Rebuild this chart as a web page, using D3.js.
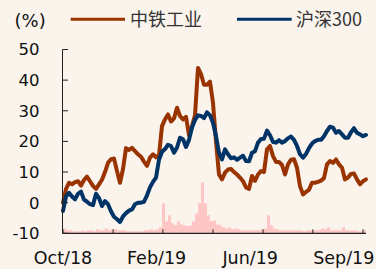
<!DOCTYPE html>
<html>
<head>
<meta charset="utf-8">
<script src="https://cdn.jsdelivr.net/npm/d3@7"></script>
<style>
  html, body { margin: 0; padding: 0; background: #faf4ed; }
  svg { display: block; }
</style>
</head>
<body>
<svg id="chart" width="376" height="269"></svg>
<script>
// 中铁工业 cumulative return (%)
const crcc = [
  0, 4.5, 6.5, 6, 6.7, 7, 5.6, 7.4, 8.5, 7,
  5.5, 4.5, 6, 7.5, 10, 13, 14.2, 14.4, 10.3, 6.5,
  11, 17.8, 17.2, 17.9, 16.8, 15.8, 15, 13.4, 12, 14.7,
  15.8, 14.8, 15.5, 25, 27.2, 28.8, 26.5, 27.5, 31, 28.3,
  27.2, 28, 22, 25, 28.5, 44, 42, 38.5, 38.5, 39.5,
  32.6, 20, 9.2, 7.6, 9.8, 10.8, 11, 10, 9.2, 8.2,
  7, 5, 4.5, 8.7, 7.1, 9.2, 10.3, 10, 17.4, 18.5,
  15.2, 13.3, 13.3, 12.3, 9.2, 12.5, 14, 14.2, 11.4, 5.4,
  2.7, 3.5, 4.2, 6.5, 6.5, 6.8, 7.2, 8, 12.5, 13.6,
  13, 14.1, 12.5, 11.4, 7.6, 8.2, 9.4, 9.5, 7.6, 6,
  7, 7.6
];

// 沪深300 cumulative return (%)
const hs300 = [
  -2.7, 2, 3.2, 2, 1.1, 2.9, 3.6, 1, 0.3, -0.5,
  -0.8, 2.9, 1.5, -1.1, 0.5, -0.5, -2.8, -4.6, -5.4, -6.3,
  -4.5, -3.4, -2.6, -2.2, -0.5, 0, 0, 0.3, 2.4, 5,
  6.8, 8.2, 14, 16.6, 17.5, 18.9, 18.5, 16.3, 18, 21.2,
  20.7, 18.2, 20.5, 24.5, 27, 28.5, 28.3, 27.6, 29.5, 28.5,
  26.1, 21.7, 16.3, 14.1, 17.4, 15.8, 14.5, 14.8, 14, 14.7,
  15.3, 13.6, 13.5, 16.3, 16.8, 19.6, 20.8, 20.9, 23.5, 22,
  19.8, 19.6, 20.4, 19.6, 20.1, 21, 21.6, 20.5, 18.5, 15.8,
  14.7, 15.9, 17.8, 19.3, 20.1, 20.5, 20.5, 21.7, 23.4, 24.8,
  24.5, 22.8, 23.4, 22.3, 21.2, 21.2, 23, 24.3, 22.8, 22.3,
  21.7, 22.1
];

// turnover (background bars)
const volume = [
  1.6, 1.0, 1.0, 0.7, 0.7, 0.7, 1.0, 0.7, 1.0, 1.0,
  0.7, 1.3, 1.0, 1.0, 1.6, 1.0, 1.3, 1.3, 1.0, 1.0,
  1.0, 0.7, 0.7, 0.7, 0.7, 0.7, 0.7, 1.0, 1.0, 1.3,
  1.0, 1.3, 2.0, 9.8, 3.9, 5.9, 3.3, 2.6, 3.9, 2.9,
  2.6, 2.3, 2.6, 3.9, 6.5, 9.8, 16.6, 9.8, 5.9, 3.9,
  4.2, 2.9, 2.6, 2.0, 1.6, 2.0, 1.3, 1.6, 1.3, 1.0,
  1.0, 1.0, 1.0, 1.0, 1.0, 1.0, 1.3, 1.6, 5.9, 2.6,
  1.6, 1.3, 1.0, 1.0, 1.0, 1.0, 1.0, 1.0, 1.0, 1.0,
  0.7, 1.0, 1.0, 1.0, 1.0, 1.0, 1.6, 1.3, 2.0, 1.0,
  1.0, 1.0, 1.0, 2.0, 1.0, 1.0, 1.0, 1.0, 0.7, 0.7,
  1.0, 0.7
];

const yTicks = [-10, 0, 10, 20, 30, 40, 50];
const xTicks = [0, 16.7, 33.3, 50, 66.7, 83.3, 100];
const xLabels = ["Oct/18", "Feb/19", "Jun/19", "Sep/19"];
const xLabelPos = [0, 31.2, 62.4, 93.6];
const seriesNames = ["中铁工业", "沪深300"];
const seriesColors = ["#993300", "#003366"];

const svg = d3.select("#chart");
const margin = { left: 63, right: 10, top: 49.5, bottom: 35.7 };
const width = 376, height = 269;

const x = d3.scaleLinear()
  .domain([0, crcc.length - 1])
  .range([margin.left, width - margin.right]);
const y = d3.scaleLinear()
  .domain([-10, 50])
  .range([height - margin.bottom, margin.top]);
const yVol = d3.scaleLinear()
  .domain([0, 60])
  .range([height - margin.bottom, margin.top]);

const fontLatin = "'DejaVu Sans', sans-serif";

// volume area in the background
svg.append("path")
  .datum(volume)
  .attr("fill", "#ffc6c6")
  .attr("d", d3.area()
    .curve(d3.curveStepAfter)
    .x((d, i) => x(i))
    .y0(yVol(0))
    .y1((d) => yVol(d)));

// lines
[crcc, hs300].forEach((series, k) => {
  svg.append("path")
    .datum(series)
    .attr("fill", "none")
    .attr("stroke", seriesColors[k])
    .attr("stroke-width", 4)
    .attr("stroke-linejoin", "round")
    .attr("stroke-linecap", "round")
    .attr("d", d3.line().x((d, i) => x(i)).y((d) => y(d)));
});

// axes lines (ticks point inward)
const axisColor = "#222";
svg.append("line")
  .attr("x1", x(0) - 0.5).attr("x2", x(0) - 0.5)
  .attr("y1", y(50)).attr("y2", y(-10))
  .attr("stroke", axisColor).attr("stroke-width", 1);
svg.append("line")
  .attr("x1", x(0) - 0.5).attr("x2", x(crcc.length - 1))
  .attr("y1", y(-10)).attr("y2", y(-10))
  .attr("stroke", axisColor).attr("stroke-width", 1.2);

svg.selectAll("line.ytick")
  .data(yTicks)
  .enter()
  .append("line")
  .attr("class", "ytick")
  .attr("x1", x(0) - 0.5).attr("x2", x(0) + 5)
  .attr("y1", (d) => y(d)).attr("y2", (d) => y(d))
  .attr("stroke", axisColor);

svg.selectAll("text.ylabel")
  .data(yTicks)
  .enter()
  .append("text")
  .attr("class", "ylabel")
  .attr("x", 39.5)
  .attr("y", (d) => y(d))
  .attr("dy", "0.36em")
  .attr("text-anchor", "end")
  .attr("font-family", fontLatin)
  .attr("font-size", 16.5)
  .attr("fill", "#111")
  .text((d) => d);

svg.selectAll("line.xtick")
  .data(xTicks)
  .enter()
  .append("line")
  .attr("class", "xtick")
  .attr("x1", (d) => x(d)).attr("x2", (d) => x(d))
  .attr("y1", y(-10)).attr("y2", y(-10) - 4)
  .attr("stroke", axisColor);

svg.selectAll("text.xlabel")
  .data(xLabels)
  .enter()
  .append("text")
  .attr("class", "xlabel")
  .attr("x", (d, i) => x(xLabelPos[i]))
  .attr("y", 263.5)
  .attr("text-anchor", "middle")
  .attr("font-family", fontLatin)
  .attr("font-size", 17.5)
  .attr("fill", "#111")
  .text((d) => d);

// unit label
svg.append("text")
  .attr("x", 14.5)
  .attr("y", 27)
  .attr("font-family", fontLatin)
  .attr("font-size", 18)
  .attr("fill", "#111")
  .text("(%)");

// legend
const legendX = [[70.7, 125, 130], [237, 291.7, 296]];
seriesNames.forEach((name, k) => {
  svg.append("line")
    .attr("x1", legendX[k][0]).attr("x2", legendX[k][1])
    .attr("y1", 19.3).attr("y2", 19.3)
    .attr("stroke", seriesColors[k])
    .attr("stroke-width", 3);
  svg.append("text")
    .attr("x", legendX[k][2])
    .attr("y", 20)
    .attr("dy", "0.36em")
    .attr("font-family", "'Noto Sans CJK SC', sans-serif")
    .attr("font-size", 18)
    .attr("fill", "#333")
    .text(name);
});
</script>
</body>
</html>
